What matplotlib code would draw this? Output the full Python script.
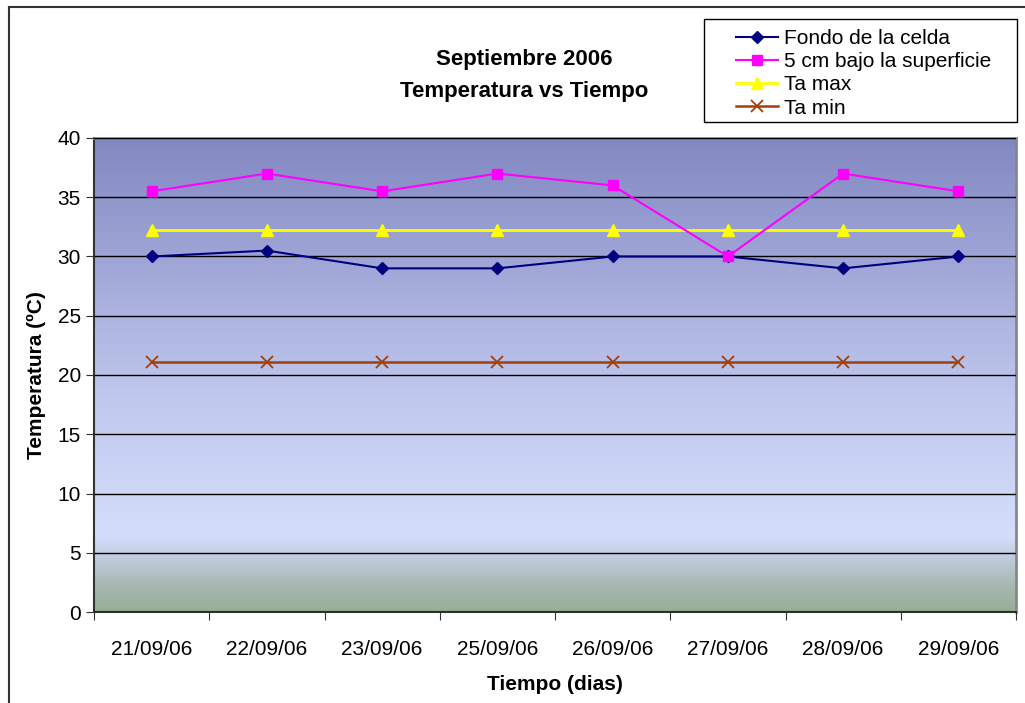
import numpy as np
import matplotlib.pyplot as plt
from matplotlib.colors import LinearSegmentedColormap
from matplotlib.lines import Line2D
from matplotlib.patches import Rectangle

plt.rcParams['font.family'] = ['Liberation Sans', 'DejaVu Sans']

fechas = ['21/09/06', '22/09/06', '23/09/06', '25/09/06',
          '26/09/06', '27/09/06', '28/09/06', '29/09/06']
fondo = [30.0, 30.5, 29.0, 29.0, 30.0, 30.0, 29.0, 30.0]
superficie = [35.5, 37.0, 35.5, 37.0, 36.0, 30.0, 37.0, 35.5]
ta_max = [32.2, 32.2, 32.2, 32.2, 32.2, 32.2, 32.2, 32.2]
ta_min = [21.1, 21.1, 21.1, 21.1, 21.1, 21.1, 21.1, 21.1]

W, H = 1025, 703
fig = plt.figure(figsize=(W / 100, H / 100), dpi=100)
ax = fig.add_axes([94 / W, 1 - 612 / H, (1016 - 94) / W, (612 - 138) / H])

# background gradient of the plot area (bottom -> top)
cmap = LinearSegmentedColormap.from_list('fondo', [
    (0.0, '#97ad95'), (0.06, '#a9bab4'), (0.12, '#c3cfe4'),
    (0.16, '#d4defb'), (0.45, '#c0c8ee'), (1.0, '#8288c1')])
grad = np.linspace(0, 1, 256).reshape(-1, 1)
ax.imshow(grad, cmap=cmap, origin='lower', aspect='auto',
          extent=[0, 1, 0, 1], transform=ax.transAxes, zorder=0)

x = np.arange(len(fechas))
ax.plot(x, fondo, color='#000080', lw=1.5, marker='D', ms=6, label='Fondo de la celda', zorder=4)
ax.plot(x, superficie, color='#ff00ff', lw=1.5, marker='s', ms=7, label='5 cm bajo la superficie', zorder=4)
ax.plot(x, ta_max, color='#ffff00', lw=2, marker='^', ms=8, label='Ta max', zorder=3)
ax.plot(x, ta_min, color='#a0410d', lw=1.8, marker='x', ms=8, mew=1.3, label='Ta min', zorder=3)

ax.set_xlim(-0.5, 7.5)
ax.set_ylim(0, 40)
ax.set_yticks(range(0, 41, 5))
ax.yaxis.grid(True, color='black', lw=1)
ax.set_axisbelow(False)
ax.tick_params(axis='y', direction='out', length=6, labelsize=15, color='#333333')

ax.set_xticks(np.arange(-0.5, 8, 1))
ax.set_xticklabels([])
ax.set_xticks(x, minor=True)
ax.set_xticklabels(fechas, minor=True, fontsize=15)
ax.tick_params(axis='x', which='major', direction='out', length=6, color='#333333')
ax.tick_params(axis='x', which='minor', length=0, pad=20)

for s in ['left', 'bottom']:
    ax.spines[s].set_color('#333333')
    ax.spines[s].set_linewidth(1.5)
for s in ['top', 'right']:
    ax.spines[s].set_color('#888888')
    ax.spines[s].set_linewidth(2)

ax.set_ylabel('Temperatura (ºC)', fontsize=15, fontweight='bold', labelpad=8)
ax.set_xlabel('Tiempo (dias)', fontsize=15, fontweight='bold', labelpad=12)

fig.text(524 / W, 1 - 60 / H, 'Septiembre 2006', ha='center', va='center',
         fontsize=16, fontweight='bold')
fig.text(524 / W, 1 - 91 / H, 'Temperatura vs Tiempo', ha='center', va='center',
         fontsize=16, fontweight='bold')

# legend box drawn separately, entries indented like the original
fig.add_artist(Rectangle((704 / W, 1 - 122 / H), (1017 - 704) / W, (122 - 19) / H,
                         transform=fig.transFigure, facecolor='white', edgecolor='black', lw=1))
leg = fig.legend(loc='upper left', bbox_to_anchor=(736 / W, 1 - 29 / H),
                 fontsize=15, frameon=False, handlelength=2.0,
                 borderpad=0, labelspacing=0.2, handletextpad=0.3, borderaxespad=0)

# chart border
fig.add_artist(Line2D([9 / W, 9 / W], [0, 1 - 7 / H], transform=fig.transFigure, color='#333333', lw=1.5))
fig.add_artist(Line2D([9 / W, 1], [1 - 7 / H, 1 - 7 / H], transform=fig.transFigure, color='#333333', lw=1.5))

fig.savefig('out.png', dpi=100)
